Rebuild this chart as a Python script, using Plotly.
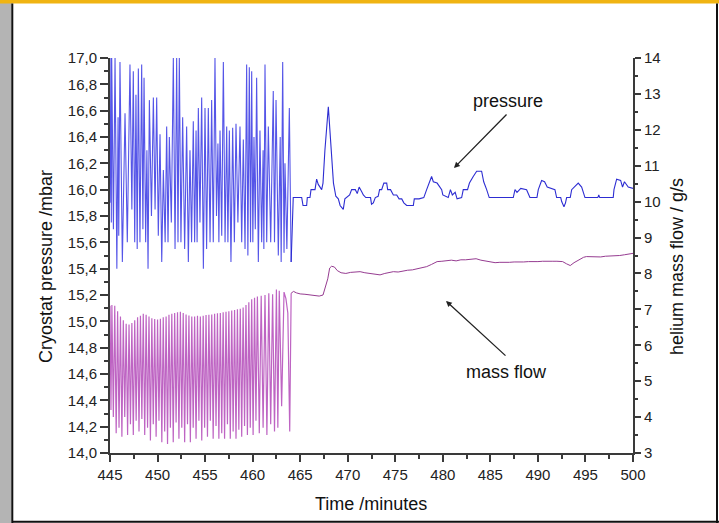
import plotly.graph_objects as go

# ---------------- data ----------------
# cryostat pressure, oscillating phase (time in minutes, pressure in mbar)
p_osc_t = [445.00, 445.10, 445.14, 445.18, 445.36, 445.53, 445.72, 445.85, 445.92, 446.05,
           446.30, 446.58, 446.82, 447.10, 447.30, 447.45, 447.60, 447.73, 447.86, 447.98,
           448.15, 448.33, 448.46, 448.58, 448.75, 448.88, 449.00, 449.14, 449.36, 449.56,
           449.74, 449.91, 450.08, 450.26, 450.44, 450.61, 450.80, 450.96, 451.10, 451.24,
           451.45, 451.66, 451.84, 452.01, 452.15, 452.29, 452.46, 452.64, 452.85, 453.06,
           453.24, 453.41, 453.58, 453.76, 453.90, 454.05, 454.16, 454.29, 454.46, 454.64,
           454.82, 454.99, 455.16, 455.34, 455.52, 455.69, 455.86, 456.04, 456.20, 456.35,
           456.45, 456.57, 456.75, 456.92, 457.10, 457.27, 457.40, 457.55, 457.72, 457.90,
           458.08, 458.25, 458.45, 458.67, 458.85, 459.02, 459.20, 459.37, 459.50, 459.65,
           459.78, 459.90, 460.02, 460.14, 460.28, 460.42, 460.60, 460.77, 460.95, 461.10,
           461.18, 461.30, 461.48, 461.65, 461.90, 462.17, 462.30, 462.46, 462.70, 462.90,
           463.00, 463.16, 463.30, 463.40, 463.60, 463.86, 464.05]
p_osc_v = [15.90, 17.00, 15.75, 17.00, 15.70, 17.00, 15.40, 16.55, 15.65, 16.97,
           15.45, 16.58, 15.60, 16.95, 15.85, 16.90, 15.60, 16.72, 15.55, 16.92,
           15.60, 16.95, 15.70, 16.85, 15.60, 16.30, 15.40, 16.68, 15.80, 16.70,
           15.85, 16.70, 15.65, 16.42, 15.45, 16.15, 15.60, 16.48, 15.60, 16.40,
           15.75, 17.00, 15.55, 17.00, 15.60, 17.00, 15.60, 16.55, 15.55, 16.48,
           15.45, 16.30, 15.60, 16.52, 15.60, 16.45, 15.60, 16.62, 15.75, 16.70,
           15.40, 16.62, 15.55, 16.62, 15.60, 16.68, 15.60, 17.00, 15.80, 16.35,
           15.60, 16.45, 15.65, 16.97, 15.60, 16.48, 15.60, 16.45, 15.45, 16.47,
           15.60, 16.50, 15.75, 16.48, 15.60, 16.38, 15.55, 16.95, 15.50, 16.93,
           15.60, 16.90, 15.60, 16.40, 15.70, 16.85, 15.45, 16.45, 15.60, 16.30,
           15.55, 16.95, 15.60, 16.48, 15.60, 16.75, 15.60, 16.68, 15.50, 16.40,
           15.45, 16.97, 15.52, 16.20, 15.55, 16.62, 15.45]

# cryostat pressure, regulated phase (staircase)
p_reg_t = [464.27, 465.16, 465.30, 465.68, 465.75, 466.03, 466.14, 466.56, 466.65, 466.73,
           466.90, 467.08, 467.26, 467.40, 467.60, 467.96, 468.20, 468.50, 468.75, 469.01,
           469.20, 469.53, 469.70, 469.89, 470.20, 470.41, 470.80, 471.00, 471.20, 471.50,
           471.64, 471.90, 472.40, 472.50, 472.69, 472.90, 473.20, 473.35, 473.57, 473.80,
           474.10, 474.20, 474.50, 474.80, 475.15, 475.40, 475.68, 475.90, 476.20, 476.50,
           476.90, 477.00, 477.50, 478.00, 478.12, 478.30, 478.82, 479.00, 479.40, 479.88,
           480.00, 480.57, 480.80, 481.00, 481.30, 481.50, 481.98, 482.15, 482.60, 482.80,
           483.20, 483.56, 484.08, 484.30, 484.61, 484.88, 487.41, 487.59, 487.80, 488.20,
           488.81, 489.16, 489.90, 490.04, 490.39, 490.70, 490.98, 491.79, 491.97, 492.40,
           492.50, 492.74, 492.90, 493.02, 493.40, 493.55, 494.24, 494.60, 494.95, 496.30,
           496.40, 496.50, 497.92, 498.00, 498.28, 498.70, 498.90, 499.10, 499.50, 500.00]
p_reg_v = [15.94, 15.94, 15.88, 15.88, 15.94, 15.94, 16.00, 16.00, 16.06, 16.08,
           16.04, 16.02, 16.00, 16.05, 16.30, 16.63, 16.40, 16.05, 15.95, 15.93,
           15.88, 15.85, 15.93, 15.94, 15.96, 16.00, 16.00, 15.97, 16.02, 15.98,
           15.96, 15.94, 15.94, 15.89, 15.90, 15.94, 15.95, 16.00, 16.00, 16.05,
           16.05, 16.00, 16.00, 15.96, 15.96, 15.93, 15.93, 15.90, 15.88, 15.88,
           15.88, 15.93, 15.93, 15.94, 15.96, 16.00, 16.10, 16.06, 16.05, 16.00,
           15.96, 15.94, 16.00, 15.96, 15.98, 15.93, 15.94, 16.00, 16.00, 16.05,
           16.10, 16.14, 16.14, 16.06, 16.00, 15.94, 15.94, 16.00, 15.98, 16.01,
           16.00, 15.94, 15.94, 16.00, 16.07, 16.06, 16.02, 16.00, 15.94, 15.94,
           15.91, 15.87, 15.90, 15.94, 15.94, 16.00, 16.05, 16.02, 15.94, 15.94,
           15.96, 15.94, 15.94, 16.00, 16.08, 16.07, 16.02, 16.06, 16.02, 16.01]

# helium mass flow, oscillating phase (g/s)
m_osc_t = [445.00, 445.10, 445.20, 445.35, 445.50, 445.65, 445.80, 445.95, 446.10, 446.25,
           446.40, 446.55, 446.70, 446.85, 447.00, 447.15, 447.30, 447.45, 447.60, 447.75,
           447.90, 448.05, 448.20, 448.35, 448.50, 448.65, 448.80, 448.95, 449.10, 449.25,
           449.40, 449.55, 449.70, 449.85, 450.00, 450.15, 450.30, 450.45, 450.60, 450.75,
           450.90, 451.05, 451.20, 451.35, 451.50, 451.65, 451.80, 451.95, 452.10, 452.25,
           452.40, 452.55, 452.70, 452.85, 453.00, 453.15, 453.30, 453.45, 453.60, 453.75,
           453.90, 454.05, 454.20, 454.35, 454.50, 454.65, 454.80, 454.95, 455.10, 455.25,
           455.40, 455.55, 455.70, 455.85, 456.00, 456.15, 456.30, 456.45, 456.60, 456.75,
           456.90, 457.05, 457.20, 457.35, 457.50, 457.65, 457.80, 457.95, 458.10, 458.25,
           458.40, 458.55, 458.70, 458.85, 459.00, 459.15, 459.30, 459.45, 459.60, 459.75,
           459.90, 460.05, 460.20, 460.35, 460.50, 460.70, 460.90, 461.10, 461.30, 461.50,
           461.70, 461.90, 462.10, 462.30, 462.50, 462.65, 462.80, 463.05, 463.30, 463.50,
           463.70, 463.90, 464.05]
m_osc_v = [7.10, 4.20, 7.12, 4.00, 7.10, 3.55, 6.95, 3.70, 6.80, 3.45,
           6.70, 4.00, 6.60, 3.50, 6.58, 3.80, 6.62, 3.50, 6.70, 3.90,
           6.78, 3.60, 6.82, 3.95, 6.88, 3.50, 6.85, 3.70, 6.80, 3.35,
           6.75, 3.80, 6.73, 3.45, 6.72, 3.90, 6.74, 3.30, 6.78, 3.60,
           6.80, 3.25, 6.85, 3.70, 6.88, 3.30, 6.90, 3.85, 6.92, 3.40,
           6.93, 3.70, 6.90, 3.30, 6.86, 3.80, 6.83, 3.30, 6.80, 3.70,
           6.80, 3.40, 6.82, 3.90, 6.80, 3.35, 6.82, 3.70, 6.84, 3.45,
           6.85, 3.90, 6.86, 3.40, 6.88, 3.75, 6.89, 3.40, 6.90, 3.55,
           6.92, 3.40, 6.93, 3.80, 6.95, 3.40, 6.97, 3.60, 6.98, 3.40,
           7.00, 3.65, 7.02, 3.45, 7.05, 3.75, 7.12, 3.50, 7.20, 3.70,
           7.28, 3.50, 7.32, 3.90, 7.36, 3.55, 7.38, 3.70, 7.40, 3.50,
           7.45, 3.80, 7.42, 3.60, 7.55, 3.70, 7.52, 4.30, 7.48, 7.30,
           6.90, 3.60, 7.45]

# helium mass flow, regulated phase
m_reg_t = [464.30, 464.60, 465.00, 465.50, 466.00, 466.50, 467.00, 467.40, 467.60, 467.90,
           468.10, 468.30, 468.60, 468.90, 469.30, 469.80, 470.30, 470.80, 471.30, 471.80,
           472.30, 472.80, 473.40, 473.90, 474.30, 474.80, 475.30, 475.80, 476.30, 476.80,
           477.30, 477.80, 478.30, 478.80, 479.40, 479.90, 480.40, 480.90, 481.40, 481.90,
           482.40, 482.90, 483.50, 484.00, 484.50, 485.00, 485.50, 486.00, 486.50, 487.00,
           487.50, 488.00, 488.50, 489.00, 489.50, 490.00, 490.50, 491.00, 491.50, 492.00,
           492.60, 493.00, 493.40, 493.80, 494.30, 494.80, 495.10, 495.60, 496.10, 496.60,
           497.10, 497.60, 498.10, 498.60, 499.10, 499.60, 500.00]
m_reg_v = [7.50, 7.46, 7.43, 7.42, 7.40, 7.40, 7.37, 7.40, 7.60, 7.85,
           8.15, 8.20, 8.18, 8.08, 8.02, 8.00, 8.03, 8.05, 8.05, 8.02,
           8.00, 7.98, 7.96, 8.00, 8.03, 8.05, 8.04, 8.07, 8.09, 8.10,
           8.13, 8.16, 8.19, 8.25, 8.33, 8.34, 8.36, 8.37, 8.35, 8.38,
           8.38, 8.40, 8.41, 8.37, 8.34, 8.31, 8.30, 8.31, 8.30, 8.31,
           8.32, 8.31, 8.32, 8.33, 8.32, 8.33, 8.34, 8.33, 8.34, 8.34,
           8.33, 8.27, 8.22, 8.30, 8.38, 8.45, 8.47, 8.46, 8.47, 8.46,
           8.48, 8.48, 8.50, 8.50, 8.52, 8.54, 8.56]

# tick labels
x_ticks = [445, 450, 455, 460, 465, 470, 475, 480, 485, 490, 495, 500]
x_ticktext = ["445", "450", "455", "460", "465", "470", "475", "480", "485", "490", "495", "500"]
yl_ticks = [14.0, 14.2, 14.4, 14.6, 14.8, 15.0, 15.2, 15.4, 15.6, 15.8, 16.0, 16.2, 16.4, 16.6, 16.8, 17.0]
yl_ticktext = ["14,0", "14,2", "14,4", "14,6", "14,8", "15,0", "15,2", "15,4", "15,6", "15,8",
               "16,0", "16,2", "16,4", "16,6", "16,8", "17,0"]
yr_ticks = [3, 4, 5, 6, 7, 8, 9, 10, 11, 12, 13, 14]
yr_ticktext = ["3", "4", "5", "6", "7", "8", "9", "10", "11", "12", "13", "14"]

# ---------------- figure ----------------
W, H = 719, 523
L, R, T, B = 110, 86, 58, 70
pw, ph = W - L - R, H - T - B


def px(x):
    return (x - L) / pw


def py(y):
    return (H - B - y) / ph


FONT = "Liberation Sans, Arial, sans-serif"
AXC = "#3a3a3a"

fig = go.Figure()
# mass flow (right axis)
fig.add_trace(go.Scatter(x=m_osc_t, y=m_osc_v, yaxis="y2", mode="lines",
                         line=dict(color="rgb(190,100,195)", width=1.2),
                         hoverinfo="skip", showlegend=False))
fig.add_trace(go.Scatter(x=m_osc_t[-1:] + m_reg_t, y=m_osc_v[-1:] + m_reg_v, yaxis="y2", mode="lines",
                         line=dict(color="rgb(150,60,145)", width=1),
                         hoverinfo="skip", showlegend=False))
# pressure (left axis)
fig.add_trace(go.Scatter(x=p_osc_t, y=p_osc_v, yaxis="y", mode="lines",
                         line=dict(color="rgb(85,85,232)", width=1.1),
                         hoverinfo="skip", showlegend=False))
fig.add_trace(go.Scatter(x=p_osc_t[-1:] + p_reg_t, y=p_osc_v[-1:] + p_reg_v, yaxis="y", mode="lines",
                         line=dict(color="rgb(45,45,210)", width=1.1),
                         hoverinfo="skip", showlegend=False))

common = dict(showgrid=False, zeroline=False, showline=True, linecolor=AXC, linewidth=2,
              ticks="outside", tickcolor=AXC, tickwidth=1.5,
              tickfont=dict(family=FONT, size=15, color="#222"))

fig.update_layout(
    width=W, height=H,
    margin=dict(l=L, r=R, t=T, b=B, pad=0),
    paper_bgcolor="white", plot_bgcolor="white",
    xaxis=dict(range=[445, 500], tickvals=x_ticks, ticktext=x_ticktext, ticklen=7,
               minor=dict(dtick=2.5, tick0=445, ticklen=4, ticks="outside", tickcolor=AXC, tickwidth=1.5),
               **common),
    yaxis=dict(range=[14, 17], tickvals=yl_ticks, ticktext=yl_ticktext, ticklen=8,
               minor=dict(dtick=0.1, tick0=14, ticklen=4, ticks="outside", tickcolor=AXC, tickwidth=1.5),
               **common),
    yaxis2=dict(range=[3, 14], tickvals=yr_ticks, ticktext=yr_ticktext, ticklen=6,
                overlaying="y", side="right", anchor="x",
                minor=dict(dtick=0.5, tick0=3, ticklen=3, ticks="outside", tickcolor=AXC, tickwidth=1.5),
                **common),
)

# frame decoration around the picture
shapes = [
    dict(type="rect", xref="paper", yref="paper", x0=px(0), x1=px(11.5), y0=py(H + 2), y1=py(-2),
         fillcolor="#b4b4b4", line=dict(width=0), layer="below"),
    dict(type="rect", xref="paper", yref="paper", x0=px(0), x1=px(W + 2), y0=py(3.5), y1=py(-2),
         fillcolor="#f0b412", line=dict(width=0)),
    dict(type="line", xref="paper", yref="paper", x0=px(12.3), x1=px(12.3), y0=py(523), y1=py(3.5),
         line=dict(color="#111", width=2)),
    dict(type="line", xref="paper", yref="paper", x0=px(12), x1=px(719), y0=py(521.8), y1=py(521.8),
         line=dict(color="#111", width=2)),
    dict(type="line", xref="paper", yref="paper", x0=px(717), x1=px(717), y0=py(523), y1=py(3.5),
         line=dict(color="#111", width=2)),
]
fig.update_layout(shapes=shapes)

tfont = dict(family=FONT, size=18, color="#111")
ann = [
    dict(text="Cryostat pressure /mbar", xref="paper", yref="paper", x=px(46), y=py(267),
         textangle=-90, showarrow=False, font=tfont, xanchor="center", yanchor="middle"),
    dict(text="helium mass flow / g/s", xref="paper", yref="paper", x=px(677), y=py(267),
         textangle=-90, showarrow=False, font=tfont, xanchor="center", yanchor="middle"),
    dict(text="Time /minutes", xref="paper", yref="paper", x=px(371), y=py(504),
         showarrow=False, font=tfont, xanchor="center", yanchor="middle"),
    dict(text="pressure", xref="paper", yref="paper", x=px(508), y=py(101),
         showarrow=False, font=tfont, xanchor="center", yanchor="middle"),
    dict(text="mass flow", xref="paper", yref="paper", x=px(506), y=py(372),
         showarrow=False, font=tfont, xanchor="center", yanchor="middle"),
    # arrows
    dict(text="", xref="paper", yref="paper", x=px(454), y=py(168), ax=54, ay=-55,
         showarrow=True, arrowhead=2, arrowsize=0.9, arrowwidth=1.3, arrowcolor="#222"),
    dict(text="", xref="paper", yref="paper", x=px(446), y=py(301), ax=61, ay=56,
         showarrow=True, arrowhead=2, arrowsize=0.9, arrowwidth=1.3, arrowcolor="#222"),
]
fig.update_layout(annotations=ann)

fig.write_html("out.html", config={"displayModeBar": False},
               post_script="document.body.style.margin='0';document.body.style.overflow='hidden';")
